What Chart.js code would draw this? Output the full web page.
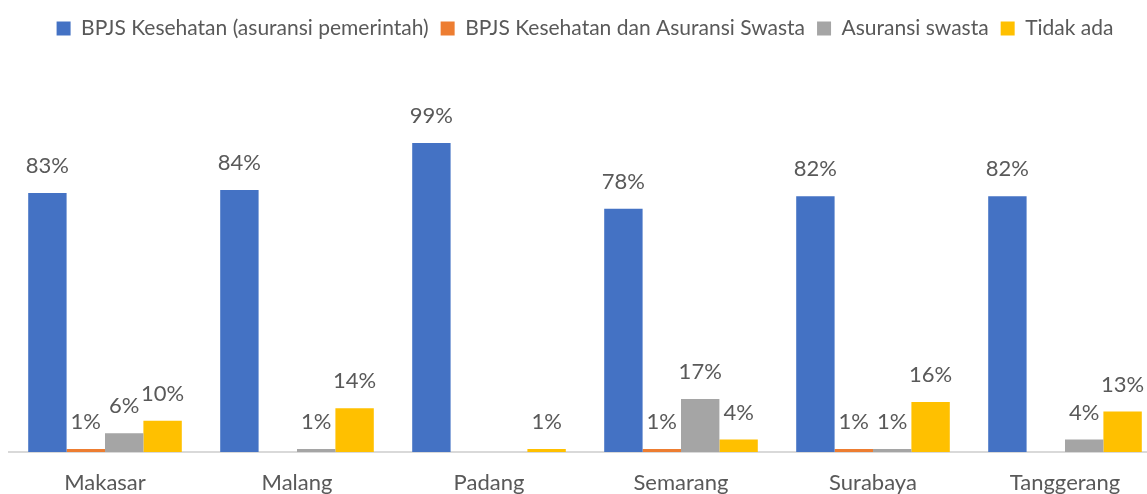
<!DOCTYPE html>
<html>
<head>
<meta charset="utf-8">
<script src="https://cdn.jsdelivr.net/npm/chart.js@4.4.0/dist/chart.umd.min.js"></script>
<style>
    html, body { margin: 0; padding: 0; overflow: hidden; background: #fff; }
    #wrap { width: 1170px; height: 494px; position: relative; }
</style>
</head>
<body>
<div id="wrap"><canvas id="grafikAsuransi"></canvas></div>
<script>
const kota = ['Makasar', 'Malang', 'Padang', 'Semarang', 'Surabaya', 'Tanggerang'];
const bpjs = [83, 84, 99, 78, 82, 82];
const bpjsSwasta = [1, 0, 0, 1, 1, 0];
const swasta = [6, 1, 0, 17, 1, 4];
const tidakAda = [10, 14, 1, 4, 16, 13];

const huruf = 'Lato, "Open Sans", sans-serif';
const warnaTeks = '#595959';

// ruang di atas area plot untuk legenda
const ruangLegenda = {
    id: 'ruangLegenda',
    beforeInit: function (chart) {
        const fitAsli = chart.legend.fit;
        chart.legend.fit = function () {
            fitAsli.call(this);
            this.height = 134;
        };
    }
};

// label persen di atas batang
const labelBatang = {
    id: 'labelBatang',
    afterDatasetsDraw: function (chart) {
        const ctx = chart.ctx;
        ctx.save();
        ctx.font = '22px ' + huruf;
        ctx.fillStyle = warnaTeks;
        ctx.textAlign = 'center';
        ctx.textBaseline = 'middle';
        chart.data.datasets.forEach(function (ds, i) {
            const meta = chart.getDatasetMeta(i);
            meta.data.forEach(function (bar, j) {
                const nilai = ds.data[j];
                if (nilai > 0) {
                    ctx.fillText(nilai + '%', bar.x, bar.y - 27);
                }
            });
        });
        ctx.restore();
    }
};

const ctxAsuransi = document.getElementById('grafikAsuransi');
var chartAsuransi = new Chart(ctxAsuransi, {
    type: 'bar',
    data: {
        labels: kota,
        datasets: [{
            label: 'BPJS Kesehatan (asuransi pemerintah)',
            data: bpjs,
            backgroundColor: '#4472C4'
        }, {
            label: 'BPJS Kesehatan dan Asuransi Swasta',
            data: bpjsSwasta,
            backgroundColor: '#ED7D31'
        }, {
            label: 'Asuransi swasta',
            data: swasta,
            backgroundColor: '#A5A5A5'
        }, {
            label: 'Tidak ada',
            data: tidakAda,
            backgroundColor: '#FFC000'
        }]
    },
    plugins: [ruangLegenda, labelBatang],
    options: {
        responsive: true,
        maintainAspectRatio: false,
        animation: false,
        categoryPercentage: 0.8,
        barPercentage: 1.0,
        layout: {
            padding: { left: 9, right: 9, top: 6, bottom: 0 }
        },
        plugins: {
            legend: {
                display: true,
                position: 'top',
                labels: {
                    boxWidth: 14,
                    boxHeight: 14,
                    padding: 12,
                    color: warnaTeks,
                    font: { family: huruf, size: 21 }
                }
            },
            tooltip: { enabled: false }
        },
        scales: {
            x: {
                grid: { display: false, drawTicks: false, tickLength: 0 },
                border: { display: true, color: '#D9D9D9', width: 2 },
                ticks: {
                    color: warnaTeks,
                    padding: 18,
                    font: { family: huruf, size: 22 }
                },
                afterFit: function (scale) {
                    scale.height = 42;
                }
            },
            y: {
                display: false,
                min: 0,
                max: 100,
                beginAtZero: true
            }
        }
    }
});
</script>
</body>
</html>
